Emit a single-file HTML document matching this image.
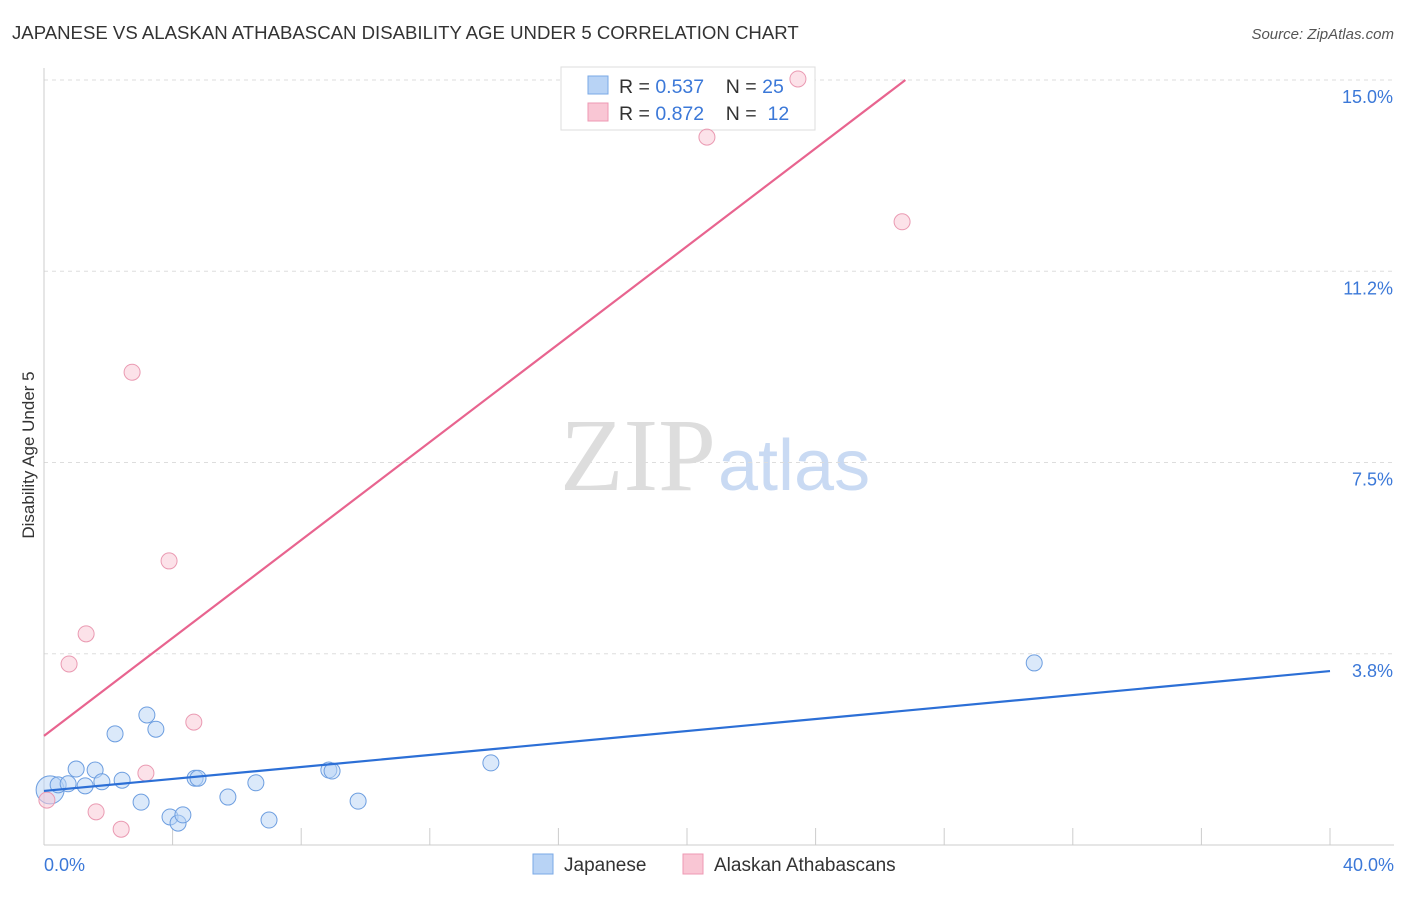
<!DOCTYPE html>
<html><head><meta charset="utf-8"><style>
body{margin:0;background:#fff;font-family:"Liberation Sans",sans-serif}
svg text{font-family:"Liberation Sans",sans-serif}
</style></head><body>
<svg width="1406" height="892" id="c">
<text x="12" y="39" font-size="18.6" fill="#333">JAPANESE VS ALASKAN ATHABASCAN DISABILITY AGE UNDER 5 CORRELATION CHART</text>
<text x="1394" y="39" font-size="15" fill="#555" font-style="italic" text-anchor="end">Source: ZipAtlas.com</text>
<text x="34" y="455" font-size="17" fill="#333" text-anchor="middle" transform="rotate(-90 34 455)">Disability Age Under 5</text>
<text x="716" y="490" font-size="104" fill="#ddd" text-anchor="end" style="font-family:'Liberation Serif',serif">ZIP</text>
<text x="718" y="490" font-size="72" fill="#c9daf3">atlas</text>
<g id="grid"></g>
<g>
<rect x="561" y="67" width="254" height="63" fill="#fff" stroke="#ddd"/>
<rect x="588" y="76" width="20" height="18" fill="#b8d3f5" stroke="#7aa8e6"/>
<rect x="588" y="103" width="20" height="18" fill="#f9c6d4" stroke="#ee98b3"/>
<text x="619" y="93" font-size="19.5" fill="#333" xml:space="preserve">R = <tspan fill="#3b78d8">0.537</tspan>    N = <tspan fill="#3b78d8">25</tspan></text>
<text x="619" y="120" font-size="19.5" fill="#333" xml:space="preserve">R = <tspan fill="#3b78d8">0.872</tspan>    N =  <tspan fill="#3b78d8">12</tspan></text>
</g>
<g id="pts"></g><g id="lines"></g>
<g>
<rect x="533" y="854" width="20" height="20" fill="#b8d3f5" stroke="#7aa8e6"/>
<text x="564" y="871" font-size="19" fill="#333">Japanese</text>
<rect x="683" y="854" width="20" height="20" fill="#f9c6d4" stroke="#ee98b3"/>
<text x="714" y="871" font-size="19" fill="#333">Alaskan Athabascans</text>
</g>
</svg>
<script>
const yTicks=[3.75,7.5,11.25,15];
const yTickLabels=["3.8%","7.5%","11.2%","15.0%"];
const xTicks=[0,4,8,12,16,20,24,28,32,36,40];
const japX=[0.19,0.44,0.75,1.0,1.28,1.59,1.8,2.21,2.43,3.02,3.2,3.48,3.92,4.17,4.32,4.7,4.79,5.72,6.59,6.999,8.86,8.96,9.77,13.9,30.8];
const japY=[1.08,1.18,1.2,1.49,1.16,1.47,1.24,2.18,1.27,0.84,2.55,2.27,0.55,0.43,0.59,1.31,1.31,0.94,1.22,0.49,1.47,1.45,0.86,1.61,3.57];
const alaX=[0.09,0.78,1.31,1.62,2.4,2.74,3.17,3.89,4.66,20.62,23.45,26.69];
const alaY=[0.88,3.55,4.14,0.65,0.31,9.27,1.41,5.57,2.41,13.88,15.02,12.22];
const japLine=[1.06,3.41];   // y at x=0 and x=40
const alaLine=[2.14,0.480]; // intercept, slope
const X=v=>44+v*32.15, Y=v=>845-v*51.0;
const NS="http://www.w3.org/2000/svg";
function mk(t,a,p){const e=document.createElementNS(NS,t);for(const k in a)e.setAttribute(k,a[k]);p.appendChild(e);return e;}
const g=document.getElementById('grid');
yTicks.forEach((v,i)=>{
 const l=mk('line',{x1:44,x2:1394,y1:Y(v),y2:Y(v),stroke:'#ddd','stroke-dasharray':'4,4'},g);
 
 
 const t=mk('text',{x:1393,y:Y(v)+23,'font-size':18,fill:'#3b78d8','text-anchor':'end'},g);t.textContent=yTickLabels[i];
 
 
});
const ax=mk('line',{x1:44,x2:44,y1:68,y2:845,stroke:'#ccc'},g);


const bx=mk('line',{x1:44,x2:1394,y1:845,y2:845,stroke:'#ccc'},g);


xTicks.forEach(v=>{const l=mk('line',{x1:X(v),x2:X(v),y1:828,y2:845,stroke:'#ccc'},g);
 
 });
[[0,"0.0%","start",44],[40,"40.0%","end",1394]].forEach(d=>{const t=mk('text',{x:d[3],y:871,'font-size':18,fill:'#3b78d8','text-anchor':d[2]},g);t.textContent=d[1];
 
 });
const p=document.getElementById('pts');
japX.forEach((v,i)=>{const c=mk('circle',{cx:X(v),cy:Y(japY[i]),r:i==0?14:8,fill:'#b8d3f5','fill-opacity':0.5,stroke:'#6d9ee0','stroke-width':1},p);
 
 });
alaX.forEach((v,i)=>{const c=mk('circle',{cx:X(v),cy:Y(alaY[i]),r:8,fill:'#f9c6d4','fill-opacity':0.5,stroke:'#ea9ab2','stroke-width':1},p);
 
 });
const L=document.getElementById('lines');
const bl=mk('line',{x1:X(0),y1:Y(japLine[0]),x2:X(40),y2:Y(japLine[1]),stroke:'#2c6fd6','stroke-width':2.2},L);


const xe=(15-alaLine[0])/alaLine[1];
const pl=mk('line',{x1:X(0),y1:Y(alaLine[0]),x2:X(xe),y2:Y(15),stroke:'#e8648f','stroke-width':2.2},L);


</script>
</body></html>
